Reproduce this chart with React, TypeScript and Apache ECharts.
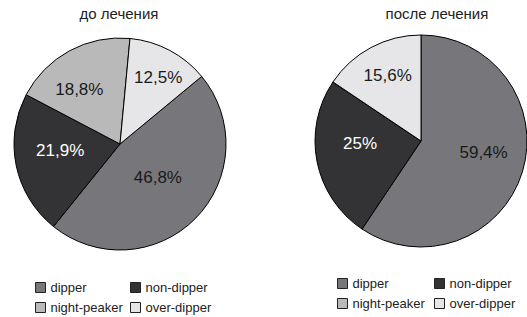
import React, { useEffect, useRef } from "react";
import * as echarts from "echarts";

const categories = ["dipper", "non-dipper", "night-peaker", "over-dipper"];
const beforeValues = [46.8, 21.9, 18.8, 12.5];
const afterValues = [59.4, 25, 0, 15.6];
const beforeLabels = ["46,8%", "21,9%", "18,8%", "12,5%"];
const afterLabels = ["59,4%", "25%", "", "15,6%"];
const titles = ["до лечения", "после лечения"];

const colors = ["#77777b", "#333335", "#b9b9b9", "#e6e6e8"];
const labelColors = ["#1a1a1a", "#ffffff", "#1a1a1a", "#1a1a1a"];
// small nudges of label positions (layout, not data)
const labelNudge = [
  [[-2, -6], [-5, -5], [-14, -5], [12, -17]],
  [[9, -5], [-6, -8], [0, 0], [-7, -16]],
];

const FONT = "'Liberation Sans', Arial, Helvetica, sans-serif";

function buildData(values: number[], labels: string[]) {
  return categories.map((name, i) => ({
    name,
    value: values[i],
    itemStyle: { color: colors[i] },
    label: {
      show: values[i] > 0,
      formatter: labels[i],
      color: labelColors[i],
    },
  }));
}

export default function App() {
  const ref = useRef<HTMLDivElement>(null);
  useEffect(() => {
    if (!ref.current) return;
    const chart = echarts.init(ref.current, undefined, { renderer: "svg" });
    const legendBase = {
      orient: "vertical" as const,
      itemWidth: 10,
      itemHeight: 10,
      itemGap: 7,
      icon: "rect",
      selectedMode: false,
      padding: 0,
      itemStyle: { borderColor: "#222", borderWidth: 1 },
      textStyle: { fontSize: 13, color: "#222", fontFamily: FONT },
    };
    const seriesBase = {
      type: "pie" as const,
      radius: 106,
      clockwise: true,
      stillShowZeroSum: true,
      label: {
        position: "inside" as const,
        fontSize: 17,
        fontFamily: FONT,
      },
      labelLine: { show: false },
      itemStyle: { borderColor: "#000", borderWidth: 1 },
      emphasis: { disabled: true },
      labelLayout: (p: any) => {
        const n = labelNudge[p.seriesIndex][p.dataIndex];
        return { dx: n[0], dy: n[1] };
      },
    };
    chart.setOption({
      animation: false,
      title: [
        {
          text: titles[0],
          left: 119,
          textAlign: "center",
          top: 6,
          padding: 0,
          textStyle: { fontSize: 15, fontWeight: "normal", color: "#222", fontFamily: FONT },
        },
        {
          text: titles[1],
          left: 437,
          textAlign: "center",
          top: 6,
          padding: 0,
          textStyle: { fontSize: 15, fontWeight: "normal", color: "#222", fontFamily: FONT },
        },
      ],
      legend: [
        { ...legendBase, data: [categories[0], categories[2]], left: 35, top: 281 },
        { ...legendBase, data: [categories[1], categories[3]], left: 130, top: 281 },
        { ...legendBase, data: [categories[0], categories[2]], left: 337, top: 277 },
        { ...legendBase, data: [categories[1], categories[3]], left: 434, top: 277 },
      ],
      series: [
        {
          ...seriesBase,
          name: titles[0],
          center: [120, 144],
          startAngle: 39.6,
          data: buildData(beforeValues, beforeLabels),
        },
        {
          ...seriesBase,
          name: titles[1],
          center: [421, 141],
          startAngle: 90,
          data: buildData(afterValues, afterLabels),
        },
      ],
    });
    return () => chart.dispose();
  }, []);
  return (
    <div
      ref={ref}
      style={{ position: "fixed", left: 0, top: 0, width: 527, height: 317, background: "#fff" }}
    />
  );
}
